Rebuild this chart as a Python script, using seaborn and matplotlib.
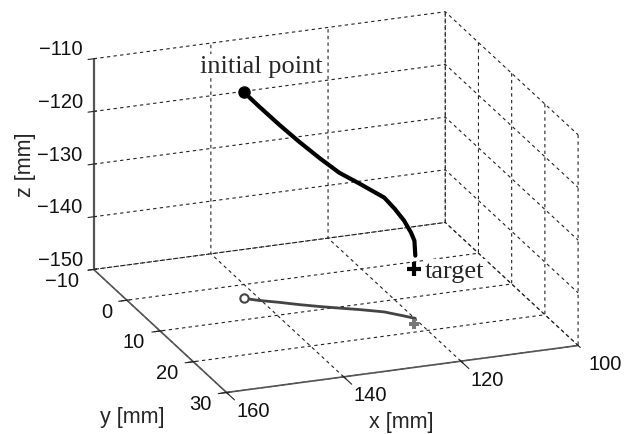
import matplotlib
matplotlib.use("Agg")
import matplotlib.pyplot as plt
import seaborn as sns
from mpl_toolkits.mplot3d import proj3d

# trajectory
traj_x = [142.3, 140.3, 137.6, 135.0, 132.3, 129.6, 126.8, 123.5, 122.3, 121.2, 120.4, 120.0, 119.9]
traj_y = [3.9, 5.1, 6.4, 7.8, 9.1, 10.3, 11.5, 13.1, 14.1, 15.0, 15.7, 16.0, 16.1]
traj_z = [-110.8, -113.2, -116.3, -119.1, -121.8, -124.3, -126.1, -128.3, -130.0, -131.9, -133.9, -135.3, -138.1]
floor_z = -150
target = (121.1, 17.8, -139.4)

x_ticks = [100, 120, 140, 160]
y_ticks = [-10, 0, 10, 20, 30]
z_ticks = [-150, -140, -130, -120, -110]
x_labels = ["100", "120", "140", "160"]
y_labels = ["\u221210", "0", "10", "20", "30"]
z_labels = ["\u2212150", "\u2212140", "\u2212130", "\u2212120", "\u2212110"]

sns.set_style("white", {"grid.color": "#222222", "grid.linestyle": (0, (3, 3))})
plt.rcParams["font.family"] = ["Liberation Sans", "DejaVu Sans"]
plt.rcParams["grid.linewidth"] = 0.8

fig = plt.figure(figsize=(6.3, 4.35), dpi=100)
ax = fig.add_axes([15 / 630, 8.5 / 435, 1, 1], projection="3d", proj_type="ortho")
ax.view_init(elev=20.6, azim=69.2)
ax.set_box_aspect((376.6, 374.6, 225.4), zoom=1.286)
ax.patch.set_alpha(0)

ax.set_xlim(100, 160)
ax.set_ylim(-10, 30)
ax.set_zlim(-150, -110)
ax.set_xticks(x_ticks)
ax.set_yticks(y_ticks)
ax.set_zticks(z_ticks)
ax.set_xticklabels([])
ax.set_yticklabels([])
ax.set_zticklabels([])

for axis in (ax.xaxis, ax.yaxis, ax.zaxis):
    axis.set_pane_color((1, 1, 1, 0))
    axis.pane.set_edgecolor((1, 1, 1, 0))
    axis.line.set_color("#555555")
    axis.line.set_linewidth(1.2)
ax.zaxis.line.set_linewidth(1.6)
ax.zaxis.set_ticks_position("lower")


def tick_text(text, x, y, z, dx, dy, ha):
    # mplot3d only pads tick labels along the axis, so put them by hand at the tick
    px, py, _ = proj3d.proj_transform(x, y, z, ax.get_proj())
    ax.annotate(text, (px, py), xytext=(dx * 0.72, dy * 0.72), textcoords="offset points",
                ha=ha, va="center", fontsize=14.5, color="#111111", annotation_clip=False)


tick_style = dict(color="#222222", lw=0.8)
for v, lab in zip(x_ticks, x_labels):
    tick_text(lab, v, 30, -150, 10, -18, "left")
    ax.plot([v, v], [30, 32.4], [-150, -150], **tick_style)
for v, lab in zip(y_ticks, y_labels):
    tick_text(lab, 160, v, -150, -15, -11, "right")
    ax.plot([160, 161.4], [v, v], [-150, -150], **tick_style)
for v, lab in zip(z_ticks, z_labels):
    tick_text(lab, 160, -10, v, -11, 10, "right")
    ax.plot([160, 160], [-10, -11.8], [v, v], **tick_style)

# trajectory and its shadow on the floor
ax.plot(traj_x, traj_y, [floor_z] * len(traj_x), color="#444444", lw=2)
ax.plot(traj_x[:1], traj_y[:1], [floor_z], "o", mfc="white", mec="#444444", mew=1.5, ms=6)
ax.plot([target[0]], [target[1]], [floor_z], "P", color="#777777", ms=7, mew=0)
ax.plot(traj_x, traj_y, traj_z, color="black", lw=3)
ax.plot(traj_x[:1], traj_y[:1], traj_z[:1], "o", color="black", ms=8)
ax.plot([target[0]], [target[1]], [target[2]], "+", color="black", ms=10, mew=3)

box = dict(facecolor="white", edgecolor="none", pad=1)
fig.text(200 / 630, 1 - 67 / 435, "initial point", family="Liberation Serif", fontsize=19, va="center", bbox=box)
fig.text(425 / 630, 1 - 272 / 435, "target", family="Liberation Serif", fontsize=19, va="center", bbox=box)

fig.text(26 / 630, 1 - 165 / 435, "z [mm]", fontsize=15.5, rotation=90, ha="center", va="center")
fig.text(132 / 630, 1 - 418 / 435, "y [mm]", fontsize=15.5, ha="center", va="center")
fig.text(401 / 630, 1 - 423 / 435, "x [mm]", fontsize=15.5, ha="center", va="center")

fig.savefig("out.png", dpi=100)
